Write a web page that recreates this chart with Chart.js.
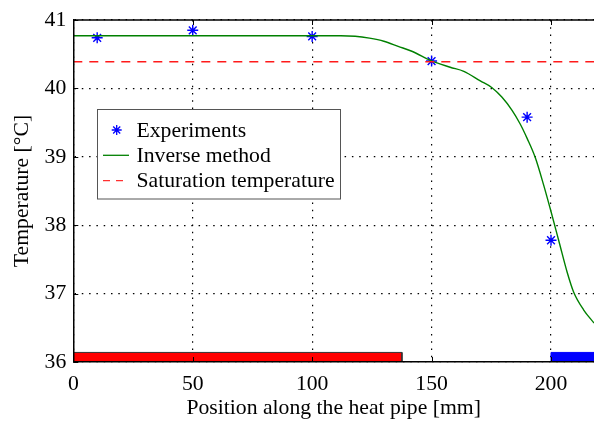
<!DOCTYPE html>
<html>
<head>
<meta charset="utf-8">
<script src="https://cdn.jsdelivr.net/npm/chart.js@4.4.0/dist/chart.umd.min.js"></script>
<style>
  html, body { margin: 0; padding: 0; background: #fff; overflow: hidden; }
  #wrap { width: 594px; height: 421px; position: relative; }
  #myChart { display: block; }
</style>
</head>
<body>
<div id="wrap"><canvas id="myChart"></canvas></div>
<script>
// Measured points
const expX = [10, 50, 100, 150, 190, 200];
const expY = [40.74, 40.85, 40.76, 40.40, 39.58, 37.78];

// Inverse method result
const invX = [0, 112, 118, 124, 130, 136, 142, 149.5, 157.8, 163.5, 170.4, 175.3, 179.5, 183.7, 187.1, 190, 193.3, 196.9, 200, 203.5, 206.7, 209.5, 213.7, 218];
const invY = [40.77, 40.77, 40.763, 40.735, 40.69, 40.615, 40.54, 40.41, 40.31, 40.25, 40.11, 40.01, 39.87, 39.68, 39.48, 39.27, 39.0, 38.59, 38.2, 37.74, 37.32, 37.02, 36.76, 36.57];

const satTemp = 40.39;

const xTicks = [0, 50, 100, 150, 200];
const yTicks = [36, 37, 38, 39, 40, 41];

// zones drawn as bars along the bottom
const evapZone = [0, 137.6];
const condZone = [200, 218];
const zoneTop = 36.14;

const FONT = "'Liberation Serif', 'Times New Roman', serif";
const FSIZE = 21.7;
Chart.defaults.font.family = FONT;
Chart.defaults.color = "#000";

const toPts = (xs, ys) => xs.map((x, i) => ({ x: x, y: ys[i] }));
const zonePts = (z) => [
  { x: z[0], y: 36 },
  { x: z[0], y: zoneTop },
  { x: z[1], y: zoneTop },
  { x: z[1], y: 36 },
];

const legendItems = [
  { label: "Experiments", kind: "star", color: "#0000ff" },
  { label: "Inverse method", kind: "line", color: "#008000" },
  { label: "Saturation temperature", kind: "dash", color: "#ff3030" },
];

const frameAndLegend = {
  id: "frameAndLegend",
  afterDraw(chart) {
    const ctx = chart.ctx;
    const area = chart.chartArea;
    const xs = chart.scales.x;
    const ys = chart.scales.y;

    ctx.save();
    // top border
    ctx.strokeStyle = "#000";
    ctx.lineWidth = 1.5;
    ctx.beginPath();
    ctx.moveTo(area.left, area.top);
    ctx.lineTo(area.right, area.top);
    ctx.stroke();

    // inward tick marks
    ctx.lineWidth = 1;
    ctx.beginPath();
    xTicks.forEach((v) => {
      const px = Math.round(xs.getPixelForValue(v)) + 0.5;
      ctx.moveTo(px, area.bottom);
      ctx.lineTo(px, area.bottom - 5);
      ctx.moveTo(px, area.top);
      ctx.lineTo(px, area.top + 5);
    });
    yTicks.forEach((v) => {
      const py = Math.round(ys.getPixelForValue(v)) + 0.5;
      ctx.moveTo(area.left, py);
      ctx.lineTo(area.left + 5, py);
    });
    ctx.stroke();

    // legend box
    const bx = 97.5, by = 109.5, bw = 243, bh = 89.5;
    ctx.fillStyle = "#fff";
    ctx.fillRect(bx, by, bw, bh);
    ctx.strokeStyle = "#555";
    ctx.lineWidth = 1;
    ctx.strokeRect(bx, by, bw, bh);

    ctx.font = FSIZE + "px " + FONT;
    ctx.textBaseline = "middle";
    ctx.textAlign = "left";
    legendItems.forEach((item, i) => {
      const cy = 130 + i * 25.3;
      ctx.strokeStyle = item.color;
      ctx.lineWidth = 1.3;
      ctx.setLineDash([]);
      ctx.beginPath();
      if (item.kind === "star") {
        const r = 5, cx = 116.7, d = r * Math.SQRT1_2;
        ctx.moveTo(cx - r, cy); ctx.lineTo(cx + r, cy);
        ctx.moveTo(cx, cy - r); ctx.lineTo(cx, cy + r);
        ctx.moveTo(cx - d, cy - d); ctx.lineTo(cx + d, cy + d);
        ctx.moveTo(cx - d, cy + d); ctx.lineTo(cx + d, cy - d);
      } else {
        if (item.kind === "dash") ctx.setLineDash([7, 6]);
        ctx.moveTo(103, cy);
        ctx.lineTo(129, cy);
      }
      ctx.stroke();
      ctx.setLineDash([]);
      ctx.fillStyle = "#000";
      ctx.fillText(item.label, 136.5, cy + 1);
    });
    ctx.restore();
  },
};

const ctx = document.getElementById("myChart").getContext("2d");

new Chart(ctx, {
  type: "line",
  data: {
    datasets: [
      {
        label: "Evaporator",
        data: zonePts(evapZone),
        borderColor: "#333",
        borderWidth: 1,
        backgroundColor: "#ff0000",
        fill: "start",
        pointRadius: 0,
        tension: 0,
      },
      {
        label: "Condenser",
        data: zonePts(condZone),
        borderColor: "#0000ff",
        borderWidth: 1,
        backgroundColor: "#0000ff",
        fill: "start",
        pointRadius: 0,
        tension: 0,
      },
      {
        label: "Saturation temperature",
        data: [{ x: 0, y: satTemp }, { x: 218, y: satTemp }],
        borderColor: "#ff1a1a",
        borderWidth: 1.5,
        borderDash: [9, 7],
        pointRadius: 0,
        fill: false,
      },
      {
        label: "Inverse method",
        data: toPts(invX, invY),
        borderColor: "#008000",
        borderWidth: 1.4,
        pointRadius: 0,
        fill: false,
        cubicInterpolationMode: "monotone",
      },
      {
        label: "Experiments",
        data: toPts(expX, expY),
        showLine: false,
        pointStyle: "star",
        pointRadius: 5.5,
        pointBorderWidth: 1.4,
        borderColor: "#0000ff",
        backgroundColor: "#0000ff",
      },
    ],
  },
  options: {
    responsive: true,
    maintainAspectRatio: false,
    animation: false,
    layout: { autoPadding: false, padding: { top: 19, left: 0, right: 0, bottom: 0 } },
    plugins: {
      legend: { display: false },
      tooltip: { enabled: false },
    },
    scales: {
      x: {
        type: "linear",
        min: 0,
        max: 218,
        afterBuildTicks: (s) => {
          s.ticks = xTicks.map((v) => ({ value: v }));
        },
        afterFit: (s) => {
          s.height = 59;
          s.paddingRight = 0;
        },
        grid: { color: "#000", lineWidth: 1.2, drawTicks: false },
        border: { display: true, color: "#000", width: 1.5, dash: [1.5, 5.8], z: 1 },
        ticks: { color: "#000", font: { size: FSIZE }, padding: 9, maxRotation: 0, autoSkip: false },
        title: {
          display: true,
          text: "Position along the heat pipe [mm]",
          color: "#000",
          font: { size: FSIZE },
          padding: { top: 0, bottom: 0 },
        },
      },
      y: {
        min: 36,
        max: 41,
        afterBuildTicks: (s) => {
          s.ticks = yTicks.map((v) => ({ value: v }));
        },
        afterFit: (s) => {
          s.width = 73.3;
        },
        grid: { color: "#000", lineWidth: 1.2, drawTicks: false },
        border: { display: true, color: "#000", width: 1.5, dash: [1.5, 5.8], z: 1 },
        ticks: { color: "#000", font: { size: FSIZE }, padding: 7 },
        title: {
          display: true,
          text: "Temperature [°C]",
          color: "#000",
          font: { size: FSIZE },
          padding: { top: 9, bottom: 0 },
        },
      },
    },
  },
  plugins: [frameAndLegend],
});
</script>
</body>
</html>
